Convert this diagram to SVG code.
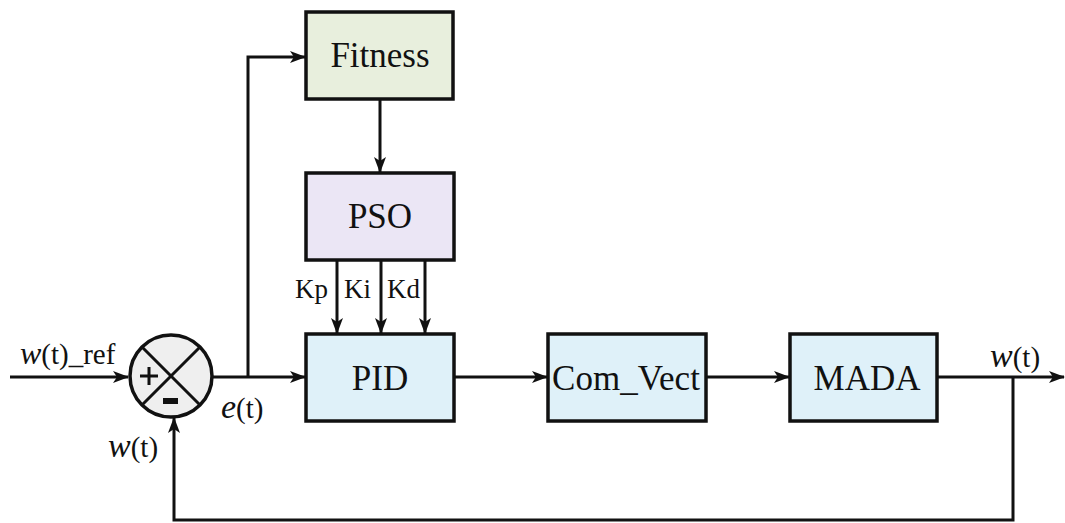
<svg xmlns="http://www.w3.org/2000/svg" width="1065" height="523" viewBox="0 0 1065 523">
  <style>
    .box { stroke: #111; stroke-width: 3.5; }
    .wire { fill: none; stroke: #111; stroke-width: 3; }
    .lbl { font-family: "Liberation Serif", "Times New Roman", serif; fill: #111; }
    .big { font-size: 35px; text-anchor: middle; }
    .gain { font-size: 27px; }
    .sig { font-size: 29px; }
    .it { font-style: italic; }
  </style>
  <defs>
    <marker id="arrow" markerUnits="userSpaceOnUse" markerWidth="16" markerHeight="12" refX="15" refY="6" orient="auto">
      <path d="M0,0 L16,6 L0,12 L4,6 Z" fill="#111"/>
    </marker>
  </defs>

  <rect width="1065" height="523" fill="#ffffff"/>

  <!-- connectors -->
  <g id="connectors">
    <line class="wire" x1="10" y1="377" x2="128" y2="377" marker-end="url(#arrow)"/>
    <line class="wire" x1="212" y1="377" x2="305" y2="377" marker-end="url(#arrow)"/>
    <polyline class="wire" points="248,377 248,57 305,57" marker-end="url(#arrow)"/>
    <line class="wire" x1="380" y1="99" x2="380" y2="172" marker-end="url(#arrow)"/>
    <line class="wire" x1="337" y1="260" x2="337" y2="333" marker-end="url(#arrow)"/>
    <line class="wire" x1="381" y1="260" x2="381" y2="333" marker-end="url(#arrow)"/>
    <line class="wire" x1="425" y1="260" x2="425" y2="333" marker-end="url(#arrow)"/>
    <line class="wire" x1="454" y1="377" x2="547" y2="377" marker-end="url(#arrow)"/>
    <line class="wire" x1="706" y1="377" x2="789" y2="377" marker-end="url(#arrow)"/>
    <line class="wire" x1="937" y1="377" x2="1064" y2="377" marker-end="url(#arrow)"/>
    <polyline class="wire" points="1013,377 1013,520 174,520 174,418" marker-end="url(#arrow)"/>
  </g>

  <!-- summing junction -->
  <g id="sum">
    <circle class="box" cx="171" cy="376" r="41" fill="#efefef"/>
    <line class="wire" x1="142" y1="347" x2="200" y2="405"/>
    <line class="wire" x1="200" y1="347" x2="142" y2="405"/>
    <path d="M140,376 H158 M149,367 V385" stroke="#111" stroke-width="3" fill="none"/>
    <rect x="163" y="398" width="15" height="6" fill="#111"/>
  </g>

  <g id="fitness">
    <rect class="box" x="306" y="12" width="147" height="87" fill="#e8efdd"/>
    <text class="lbl big" x="380" y="67">Fitness</text>
  </g>

  <g id="pso">
    <rect class="box" x="306" y="173" width="148" height="87" fill="#ebe6f5"/>
    <text class="lbl big" x="380" y="228">PSO</text>
    <text class="lbl gain" x="295" y="298">Kp</text>
    <text class="lbl gain" x="344" y="298">Ki</text>
    <text class="lbl gain" x="387" y="298">Kd</text>
  </g>

  <g id="pid">
    <rect class="box" x="306" y="334" width="148" height="87" fill="#dff1f9"/>
    <text class="lbl big" x="380" y="390">PID</text>
  </g>

  <g id="com_vect">
    <rect class="box" x="548" y="334" width="158" height="87" fill="#dff1f9"/>
    <text class="lbl big" x="626" y="390">Com_Vect</text>
  </g>

  <g id="mada">
    <rect class="box" x="790" y="334" width="147" height="87" fill="#dff1f9"/>
    <text class="lbl big" x="867" y="390">MADA</text>
  </g>

  <!-- signal labels -->
  <g id="labels">
    <text class="lbl sig" x="20" y="364"><tspan class="it" font-size="32">w</tspan>(t)_ref</text>
    <text class="lbl sig" x="221" y="418"><tspan class="it" font-size="34">e</tspan>(t)</text>
    <text class="lbl sig" x="108" y="457"><tspan class="it" font-size="34">w</tspan>(t)</text>
    <text class="lbl sig" x="990" y="367"><tspan class="it" font-size="34">w</tspan>(t)</text>
  </g>
</svg>
